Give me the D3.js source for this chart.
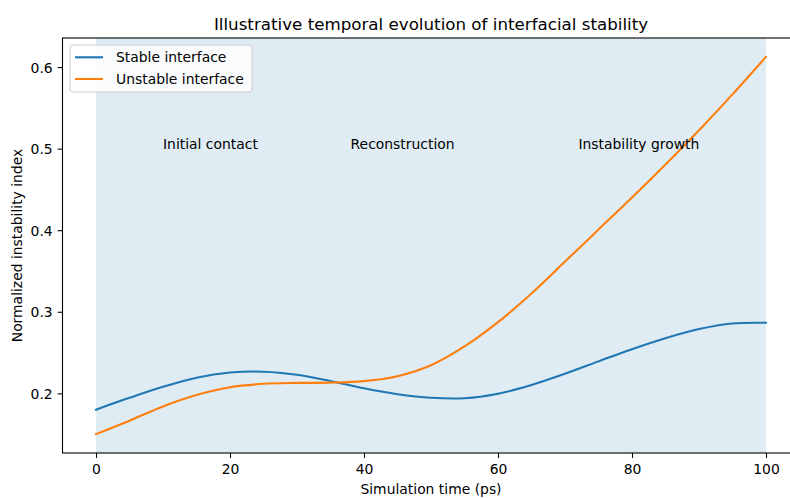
<!DOCTYPE html>
<html lang="en">
<head>
<meta charset="UTF-8">
<title>Interfacial stability</title>
<script src="https://d3js.org/d3.v7.min.js"></script>
<style>
    body { margin: 0; background: #ffffff; }
    svg { display: block; font-family: "DejaVu Sans", sans-serif; }
    .tick-label { font-size: 13.9px; fill: #000; }
</style>
</head>
<body>
<div id="chart"></div>
<script>
    // data
    const timePoints = [0, 5, 10, 15, 20, 25, 30, 35, 40, 45, 50, 55, 60, 65, 70, 75, 80, 85, 90, 95, 100];
    const stableValues = [0.180, 0.1945, 0.2080, 0.2192, 0.2255, 0.2265, 0.2228, 0.2152, 0.2062, 0.1990, 0.1946, 0.1940, 0.1995, 0.2102, 0.2240, 0.2392, 0.2542, 0.2676, 0.2788, 0.2856, 0.2865];
    const unstableValues = [0.150, 0.1665, 0.1840, 0.1980, 0.2075, 0.2117, 0.2128, 0.2131, 0.2150, 0.2210, 0.2345, 0.2575, 0.2873, 0.3225, 0.3615, 0.4008, 0.4400, 0.4805, 0.5225, 0.5665, 0.6125];
    const seriesNames = ["Stable interface", "Unstable interface"];
    const phaseLabels = ["Initial contact", "Reconstruction", "Instability growth"];
    const phaseStarts = [10, 38, 72];
    const phaseLevel = 0.5;
    const shadeRange = [0, 100];
    const xTicks = [0, 20, 40, 60, 80, 100];
    const yTicks = [0.2, 0.3, 0.4, 0.5, 0.6];

    const width = 790, height = 498;
    const plotLeft = 62.5, plotRight = 799.5, plotTop = 38, plotBottom = 453;
    const colors = ["#1f77b4", "#ff7f0e"];

    const svg = d3.select("#chart").append("svg")
        .attr("width", width)
        .attr("height", height);

    const x = d3.scaleLinear().domain([-5, 105]).range([plotLeft, plotRight]);
    const yMin = d3.min(unstableValues.concat(stableValues));
    const yMax = d3.max(unstableValues.concat(stableValues));
    const pad = (yMax - yMin) * 0.05;
    const y = d3.scaleLinear().domain([yMin - pad, yMax + pad]).range([plotBottom, plotTop]);

    // shaded span
    svg.append("rect")
        .attr("x", x(shadeRange[0]))
        .attr("y", plotTop)
        .attr("width", x(shadeRange[1]) - x(shadeRange[0]))
        .attr("height", plotBottom - plotTop)
        .attr("fill", "#1f77b4")
        .attr("fill-opacity", 0.14);

    const rows = [stableValues, unstableValues];
    const line = d3.line()
        .x((d, i) => x(timePoints[i]))
        .y(d => y(d))
        .curve(d3.curveCatmullRom.alpha(0.5));

    rows.forEach((vals, k) => {
        svg.append("path")
            .datum(vals)
            .attr("d", line)
            .attr("fill", "none")
            .attr("stroke", colors[k])
            .attr("stroke-width", 2.1)
            .attr("stroke-linecap", "square");
    });

    // phase annotations
    phaseLabels.forEach((label, i) => {
        svg.append("text")
            .attr("x", x(phaseStarts[i]))
            .attr("y", y(phaseLevel))
            .attr("font-size", "13.9px")
            .attr("fill", "#000")
            .text(label);
    });

    // axes
    const xAxis = svg.append("g")
        .attr("transform", `translate(0,${plotBottom})`)
        .call(d3.axisBottom(x).tickValues(xTicks).tickSize(4.9).tickPadding(4).tickFormat(d3.format("d")));
    const yAxis = svg.append("g")
        .attr("transform", `translate(${plotLeft},0)`)
        .call(d3.axisLeft(y).tickValues(yTicks).tickSize(4.9).tickPadding(4.9).tickFormat(d3.format(".1f")));

    [xAxis, yAxis].forEach(g => {
        g.select(".domain").remove();
        g.selectAll(".tick line").attr("stroke", "#000").attr("stroke-width", 1.1);
        g.selectAll(".tick text")
            .attr("class", "tick-label")
            .attr("font-family", "DejaVu Sans, sans-serif");
    });
    xAxis.selectAll(".tick text").attr("dy", "0.71em").attr("y", 11.5);
    yAxis.selectAll(".tick text").attr("dy", "0.36em");

    // spines
    svg.append("rect")
        .attr("x", plotLeft)
        .attr("y", plotTop)
        .attr("width", plotRight - plotLeft)
        .attr("height", plotBottom - plotTop)
        .attr("fill", "none")
        .attr("stroke", "#000")
        .attr("stroke-width", 1.1);

    // title and axis labels
    const midX = (plotLeft + plotRight) / 2;
    svg.append("text")
        .attr("x", midX)
        .attr("y", 30)
        .attr("text-anchor", "middle")
        .attr("font-size", "16.7px")
        .text("Illustrative temporal evolution of interfacial stability");

    svg.append("text")
        .attr("x", midX)
        .attr("y", 494)
        .attr("text-anchor", "middle")
        .attr("font-size", "13.9px")
        .text("Simulation time (ps)");

    svg.append("text")
        .attr("transform", `translate(21.5,${(plotTop + plotBottom) / 2}) rotate(-90)`)
        .attr("text-anchor", "middle")
        .attr("font-size", "13.9px")
        .text("Normalized instability index");

    // legend
    const legend = svg.append("g").attr("transform", "translate(70,45)");
    legend.append("rect")
        .attr("width", 182)
        .attr("height", 47)
        .attr("rx", 3)
        .attr("fill", "#ffffff")
        .attr("fill-opacity", 0.8)
        .attr("stroke", "#cccccc")
        .attr("stroke-width", 1);
    seriesNames.forEach((name, i) => {
        const row = legend.append("g").attr("transform", `translate(0,${12.3 + i * 21.7})`);
        row.append("line")
            .attr("x1", 5).attr("x2", 33)
            .attr("stroke", colors[i])
            .attr("stroke-width", 2.1);
        row.append("text")
            .attr("x", 46)
            .attr("y", 5)
            .attr("font-size", "13.9px")
            .text(name);
    });
</script>
</body>
</html>
